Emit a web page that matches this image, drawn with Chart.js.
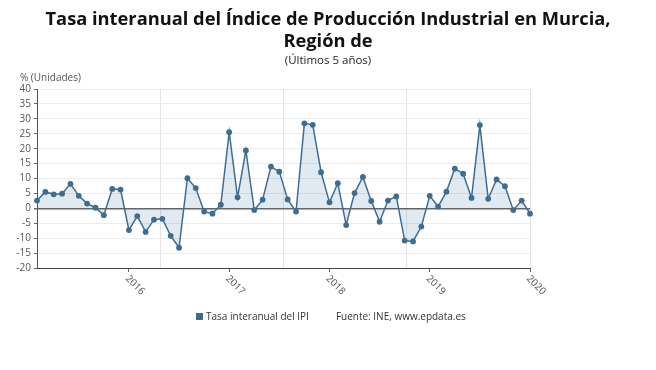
<!DOCTYPE html>
<html>
<head>
<meta charset="utf-8">
<script src="https://cdn.jsdelivr.net/npm/chart.js@4"></script>
<style>
  body { margin: 0; background: #fff; font-family: "Open Sans", sans-serif; }
  #wrap { position: relative; width: 656px; height: 370px; }
  canvas { position: absolute; left: 0; top: 0; }
  .title { position: absolute; left: 0; width: 656px; text-align: center; font-weight: bold; font-size: 18.3px; color: #111; }
  .sub { position: absolute; left: 0; width: 656px; text-align: center; font-size: 11.5px; color: #222; top: 52px; }
  .unit { position: absolute; left: 20px; top: 70px; font-size: 10px; color: #555; }
  .legend { position: absolute; top: 309px; left: 196px; font-size: 10px; color: #333; white-space: nowrap; }
  .legend i { display: inline-block; width: 7px; height: 7px; background: #3f6d91; margin-right: 3px; vertical-align: 0px; }
</style>
</head>
<body>
<div id="wrap">
  <canvas id="chart" width="656" height="370"></canvas>
  <div class="title" style="top:5px">Tasa interanual del Índice de Producción Industrial en Murcia,</div>
  <div class="title" style="top:27px">Región de</div>
  <div class="sub">(Últimos 5 años)</div>
  <div class="unit">% (Unidades)</div>
  <div class="legend"><i></i>Tasa interanual del IPI<span style="margin-left:27px">Fuente: INE, www.epdata.es</span></div>
</div>
<script>
const months = [
  "2015-02","2015-03","2015-04","2015-05","2015-06","2015-07","2015-08","2015-09","2015-10","2015-11","2015-12",
  "2016-01","2016-02","2016-03","2016-04","2016-05","2016-06","2016-07","2016-08","2016-09","2016-10","2016-11","2016-12",
  "2017-01","2017-02","2017-03","2017-04","2017-05","2017-06","2017-07","2017-08","2017-09","2017-10","2017-11","2017-12",
  "2018-01","2018-02","2018-03","2018-04","2018-05","2018-06","2018-07","2018-08","2018-09","2018-10","2018-11","2018-12",
  "2019-01","2019-02","2019-03","2019-04","2019-05","2019-06","2019-07","2019-08","2019-09","2019-10","2019-11","2019-12",
  "2020-01"
];
const ipi = [
  2.6, 5.5, 4.7, 4.9, 8.2, 4.2, 1.6, 0.2, -2.3, 6.5, 6.3,
  -7.3, -2.6, -7.9, -3.8, -3.5, -9.2, -13.2, 10.1, 6.8, -1.1, -1.8, 1.2,
  25.5, 3.7, 19.4, -0.6, 2.9, 14.0, 12.3, 3.0, -1.1, 28.5, 28.0, 12.1,
  2.0, 8.4, -5.6, 5.1, 10.5, 2.5, -4.5, 2.6, 4.0, -10.8, -11.1, -6.1,
  4.2, 0.6, 5.6, 13.3, 11.6, 3.5, 27.9, 3.2, 9.7, 7.4, -0.6, 2.6,
  -1.8
];
const yearLabels = ["2016", "2017", "2018", "2019", "2020"];
const yearMonths = ["2016-01", "2017-01", "2018-01", "2019-01", "2020-01"];
const yTicks = [-20, -15, -10, -5, 0, 5, 10, 15, 20, 25, 30, 35, 40];
const vGrid = [14.75, 29.5, 44.25, 59];

const font = { family: "'Open Sans', sans-serif", size: 10 };
const yearIdx = yearMonths.map(m => months.indexOf(m));

const yearText = {
  id: "yearText",
  afterDraw(chart) {
    const x = chart.scales.x, c = chart.ctx;
    c.save();
    c.font = "10px 'Open Sans', sans-serif";
    c.fillStyle = "#555";
    c.textAlign = "left";
    c.textBaseline = "middle";
    yearIdx.forEach((idx, i) => {
      const px = x.getPixelForValue(idx);
      c.save();
      c.translate(px - 2, x.top + 9);
      c.rotate(Math.PI / 4);
      c.fillText(yearLabels[i], 0, 0);
      c.restore();
    });
    c.restore();
  }
};

new Chart(document.getElementById("chart"), {
  type: "line",
  data: {
    labels: months,
    datasets: [{
      data: ipi,
      borderColor: "#3f6d91",
      backgroundColor: "rgba(63,115,160,0.15)",
      borderWidth: 1.5,
      pointRadius: 2.9,
      pointBackgroundColor: "#3f6d91",
      pointBorderColor: "#3f6d91",
      pointBorderWidth: 0,
      fill: "origin",
      tension: 0
    }]
  },
  options: {
    responsive: false,
    animation: false,
    layout: { padding: { left: 0, right: 126, top: 89, bottom: 0 } },
    plugins: { legend: { display: false }, tooltip: { enabled: false } },
    scales: {
      x: {
        type: "category",
        offset: false,
        afterFit: s => { s.height = 102; },
        ticks: { display: false, autoSkip: false },
        grid: {
          drawOnChartArea: false,
          tickLength: 4,
          color: ctx => yearIdx.includes(ctx.index) ? "#666" : "rgba(0,0,0,0)"
        },
        border: { color: "#444", dash: [1, 1.5], width: 1 }
      },
      x2: {
        type: "linear",
        min: 0,
        max: months.length - 1,
        display: true,
        position: "bottom",
        afterFit: s => { s.height = 0; },
        afterBuildTicks: s => { s.ticks = vGrid.map(v => ({ value: v })); },
        ticks: { display: false },
        grid: { color: "#e4e4e4", drawTicks: false },
        border: { display: false }
      },
      y: {
        min: -20,
        max: 40,
        afterFit: s => { s.width = 37; },
        afterBuildTicks: s => { s.ticks = yTicks.map(v => ({ value: v })); },
        ticks: { autoSkip: false, color: "#555", font: font, padding: 3 },
        grid: {
          color: ctx => ctx.tick && ctx.tick.value === 0 ? "#666" : "#ececec",
          lineWidth: ctx => ctx.tick && ctx.tick.value === 0 ? 1.5 : 1,
          tickLength: 3,
          tickColor: "#666"
        },
        border: { color: "#555", width: 1 }
      }
    }
  },
  plugins: [yearText]
});
</script>
</body>
</html>
